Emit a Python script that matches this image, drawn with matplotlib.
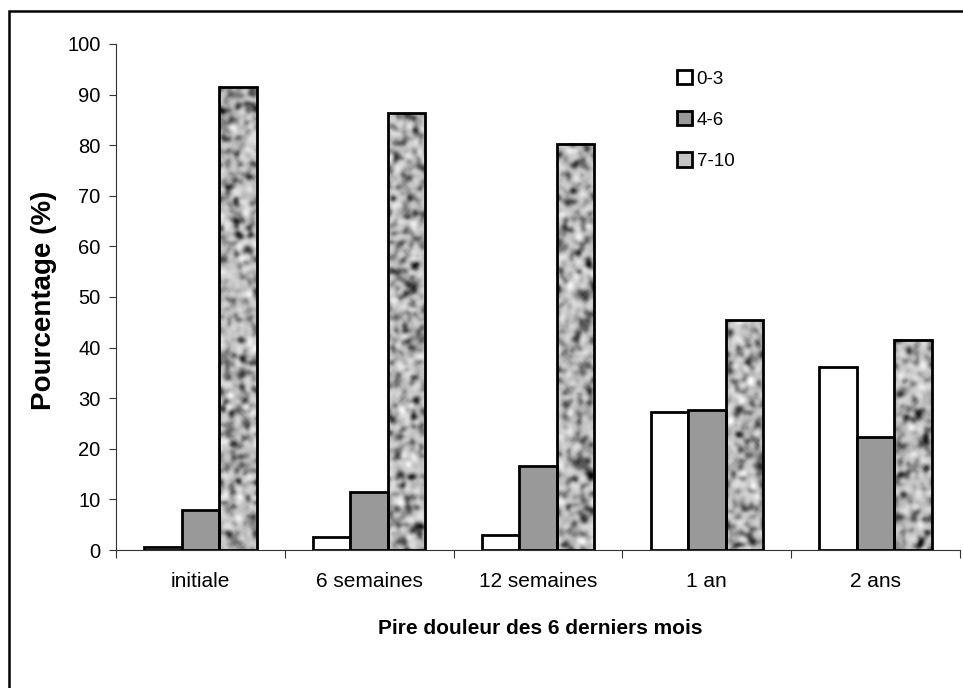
import numpy as np
import matplotlib.pyplot as plt
from matplotlib.patches import Rectangle, Patch

plt.rcParams['font.family'] = ['Liberation Sans', 'DejaVu Sans']

categories = ['initiale', '6 semaines', '12 semaines', '1 an', '2 ans']
pain_0_3 = [0.5, 2.5, 3.0, 27.2, 36.2]
pain_4_6 = [8.0, 11.4, 16.6, 27.6, 22.3]
pain_7_10 = [91.5, 86.3, 80.3, 45.4, 41.6]
series_labels = ['0-3', '4-6', '7-10']
yticks = list(range(0, 101, 10))

BAR_W = 0.222
EDGE_LW = 2.0
GRAY = '#999999'


def granite(rows, cols, seed):
    # light stone texture with darker speckles for the 7-10 bars
    rng = np.random.default_rng(seed)
    a = rng.normal(size=(rows, cols))
    for _ in range(2):
        a = (a + np.roll(a, 1, 0) + np.roll(a, -1, 0) + np.roll(a, 1, 1) + np.roll(a, -1, 1)) / 5
    a = (a - a.mean()) / a.std()
    return np.where(a < 0, a * 1.4, a * 0.5)


fig = plt.figure(figsize=(9.63, 6.88), dpi=100)
fig.patches.append(Rectangle((9 / 963, -0.1), 1.2, 1 - 11 / 688 + 0.1, transform=fig.transFigure,
                             fill=False, lw=1.8, edgecolor='black'))

ax = fig.add_axes([116 / 963, 1 - 550 / 688, 844 / 963, 506 / 688])

x = np.arange(len(categories))
ax.bar(x - BAR_W, pain_0_3, BAR_W, color='white', edgecolor='black', lw=EDGE_LW, zorder=3)
ax.bar(x, pain_4_6, BAR_W, color=GRAY, edgecolor='black', lw=EDGE_LW, zorder=3)
bars = ax.bar(x + BAR_W, pain_7_10, BAR_W, color='none', edgecolor='black', lw=EDGE_LW, zorder=3)

for i, b in enumerate(bars):
    h = b.get_height()
    rows = max(int(h * 5.06 / 2.2), 2)
    tex = granite(rows, 17, seed=10 + i)
    ax.imshow(tex, cmap='gray', vmin=-4.2, vmax=1.6, aspect='auto', interpolation='bicubic',
              extent=(b.get_x(), b.get_x() + b.get_width(), 0, h), zorder=2)

ax.set_xlim(-0.5, len(categories) - 0.5)
ax.set_ylim(0, 100)
ax.set_yticks(yticks)

ax.set_xticks(np.arange(len(categories) + 1) - 0.5)
ax.set_xticklabels([])
ax.set_xticks(x, minor=True)
ax.set_xticklabels(categories, minor=True)
ax.tick_params(axis='x', which='major', length=6, width=0.8, color='#333333')
ax.tick_params(axis='x', which='minor', length=0, pad=16, labelsize=15)
ax.tick_params(axis='y', length=5, width=0.8, color='#333333', pad=6, labelsize=14.5)

for s in ['top', 'right']:
    ax.spines[s].set_visible(False)
for s in ['left', 'bottom']:
    ax.spines[s].set_color('#333333')
    ax.spines[s].set_linewidth(0.8)

ax.set_xlabel('Pire douleur des 6 derniers mois', fontsize=15, fontweight='bold')
ax.xaxis.set_label_coords(540 / 963, 1 - 619 / 688, transform=fig.transFigure)
ax.set_ylabel('Pourcentage (%)', fontsize=20, fontweight='bold')
ax.yaxis.set_label_coords(57 / 963, 1 - 300 / 688, transform=fig.transFigure)

handles = [Patch(facecolor='white', edgecolor='black', lw=EDGE_LW),
           Patch(facecolor=GRAY, edgecolor='black', lw=EDGE_LW),
           Patch(facecolor='#c4c4c4', edgecolor='black', lw=EDGE_LW)]
ax.legend(handles, series_labels, loc='upper left', bbox_to_anchor=(677 / 963, 1 - 70 / 688),
          bbox_transform=fig.transFigure, frameon=False, fontsize=13.5, borderpad=0, borderaxespad=0,
          handlelength=0.8, handleheight=0.8, handletextpad=0.25, labelspacing=1.25)

fig.savefig('out.png', dpi=100)
